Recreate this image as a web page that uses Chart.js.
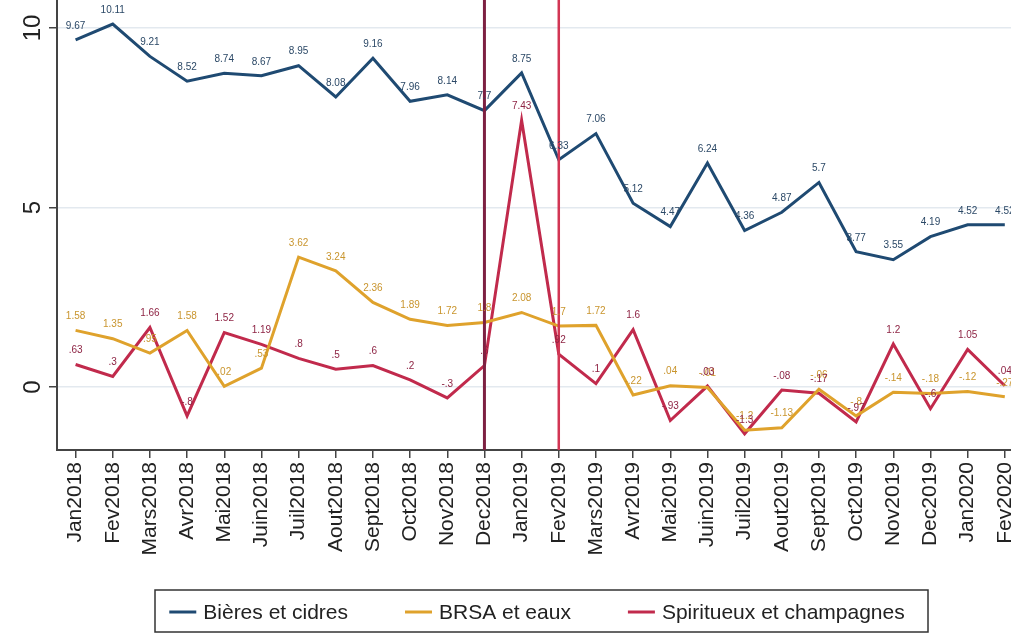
<!DOCTYPE html>
<html>
<head>
<meta charset="utf-8">
<script src="https://cdn.jsdelivr.net/npm/chart.js@4.4.1/dist/chart.umd.min.js"></script>
<style>
  html, body { margin: 0; padding: 0; background: #fff; overflow: hidden; }
  #wrap { width: 1011px; height: 635px; overflow: hidden; }
</style>
</head>
<body>
<div id="wrap"><canvas id="myChart" width="1034" height="635"></canvas></div>
<script>
var months = ['Jan2018', 'Fev2018', 'Mars2018', 'Avr2018', 'Mai2018', 'Juin2018', 'Juil2018', 'Aout2018',
    'Sept2018', 'Oct2018', 'Nov2018', 'Dec2018', 'Jan2019', 'Fev2019', 'Mars2019', 'Avr2019', 'Mai2019',
    'Juin2019', 'Juil2019', 'Aout2019', 'Sept2019', 'Oct2019', 'Nov2019', 'Dec2019', 'Jan2020', 'Fev2020'];

var bieres = [9.67, 10.11, 9.21, 8.52, 8.74, 8.67, 8.95, 8.08, 9.16, 7.96, 8.14, 7.7, 8.75,
    6.33, 7.06, 5.12, 4.47, 6.24, 4.36, 4.87, 5.7, 3.77, 3.55, 4.19, 4.52, 4.52];
var brsa = [1.58, 1.35, 0.95, 1.58, 0.02, 0.53, 3.62, 3.24, 2.36, 1.89, 1.72, 1.8, 2.08,
    1.7, 1.72, -0.22, 0.04, -0.01, -1.2, -1.13, -0.06, -0.8, -0.14, -0.18, -0.12, -0.27];
var spiritueux = [0.63, 0.3, 1.66, -0.8, 1.52, 1.19, 0.8, 0.5, 0.6, 0.2, -0.3, 0.6, 7.43,
    0.92, 0.1, 1.6, -0.93, 0.03, -1.3, -0.08, -0.17, -0.97, 1.2, -0.6, 1.05, 0.04];

var yTicks = [0, 5, 10];
// months marked with a vertical line
var markers = [{ month: 'Dec2018', color: '#7d2142', width: 3 }, { month: 'Fev2019', color: '#d23654', width: 2.5 }];

var BLUE = '#1f4a72', ORANGE = '#dfa22c', RED = '#c12a4c';
var FONT = '"Liberation Sans", Arial, sans-serif';

// Stata-style numbers: .6, -.82, 1.64
function fmt(v) {
    var s = String(Math.round(v * 100) / 100);
    return s.replace(/^0\./, '.').replace(/^-0\./, '-.');
}

var extras = {
    id: 'extras',
    afterDatasetsDraw: function (chart) {
        var c = chart.ctx, x = chart.scales.x, area = chart.chartArea;
        c.save();
        // vertical lines
        markers.forEach(function (m) {
            var px = x.getPixelForValue(months.indexOf(m.month));
            c.strokeStyle = m.color;
            c.lineWidth = m.width;
            c.beginPath();
            c.moveTo(px, area.top);
            c.lineTo(px, area.bottom);
            c.stroke();
        });
        // value labels above each point
        c.font = '10px ' + FONT;
        c.textAlign = 'center';
        c.textBaseline = 'middle';
        chart.data.datasets.forEach(function (ds, i) {
            chart.getDatasetMeta(i).data.forEach(function (pt, j) {
                c.fillStyle = ds.labelColor;
                c.fillText(fmt(ds.data[j]), pt.x, pt.y - 14);
            });
        });
        c.restore();
    },
    afterDraw: function (chart) {
        var c = chart.ctx, y = chart.scales.y;
        c.save();
        // y tick labels, rotated
        c.font = '24px ' + FONT;
        c.fillStyle = '#222';
        c.textAlign = 'center';
        c.textBaseline = 'middle';
        yTicks.forEach(function (t) {
            c.save();
            c.translate(33, y.getPixelForValue(t));
            c.rotate(-Math.PI / 2);
            c.fillText(String(t), 0, 0);
            c.restore();
        });
        // legend in a box
        c.font = '21px ' + FONT;
        var items = chart.data.datasets.map(function (ds) {
            return { text: ds.label, color: ds.borderColor, w: c.measureText(ds.label).width };
        });
        var seg = 27, gap = 7, between = 57;
        var total = items.reduce(function (s, it) { return s + seg + gap + it.w; }, 0) + between * (items.length - 1);
        var cx = 537, cy = 612;
        var left = cx - total / 2;
        c.strokeStyle = '#333';
        c.lineWidth = 1.5;
        c.strokeRect(155, 590, 773, 42);
        c.textAlign = 'left';
        items.forEach(function (it) {
            c.strokeStyle = it.color;
            c.lineWidth = 3;
            c.beginPath();
            c.moveTo(left, cy);
            c.lineTo(left + seg, cy);
            c.stroke();
            c.fillStyle = '#222';
            c.fillText(it.text, left + seg + gap, cy + 1);
            left += seg + gap + it.w + between;
        });
        c.restore();
    }
};

new Chart(document.getElementById('myChart'), {
    type: 'line',
    data: {
        labels: months,
        datasets: [
            { label: 'Bières et cidres', data: bieres, borderColor: BLUE, labelColor: '#2b4866' },
            { label: 'BRSA et eaux', data: brsa, borderColor: ORANGE, labelColor: '#c9952e' },
            { label: 'Spiritueux et champagnes', data: spiritueux, borderColor: RED, labelColor: '#8e2444' }
        ]
    },
    options: {
        responsive: false,
        animation: false,
        layout: { padding: 0 },
        elements: {
            line: { borderWidth: 3, tension: 0, fill: false },
            point: { radius: 0 }
        },
        plugins: {
            legend: { display: false },
            tooltip: { enabled: false }
        },
        scales: {
            x: {
                offset: true,
                grid: { drawOnChartArea: false, offset: false, drawTicks: true, tickLength: 8, color: '#444', lineWidth: 1.5 },
                border: { display: true, color: '#444', width: 2 },
                ticks: { minRotation: 90, maxRotation: 90, autoSkip: false, padding: 4, color: '#222', font: { family: FONT, size: 21 } },
                afterFit: function (s) { s.height = 185; }
            },
            y: {
                min: -1.75,
                max: 10.78,
                afterBuildTicks: function (s) { s.ticks = yTicks.map(function (v) { return { value: v }; }); },
                grid: { color: '#e3e9ef', lineWidth: 1.5, tickLength: 8, tickColor: '#444' },
                border: { display: true, color: '#444', width: 2 },
                ticks: { display: false },
                afterFit: function (s) { s.width = 57; }
            }
        }
    },
    plugins: [extras]
});
</script>
</body>
</html>
